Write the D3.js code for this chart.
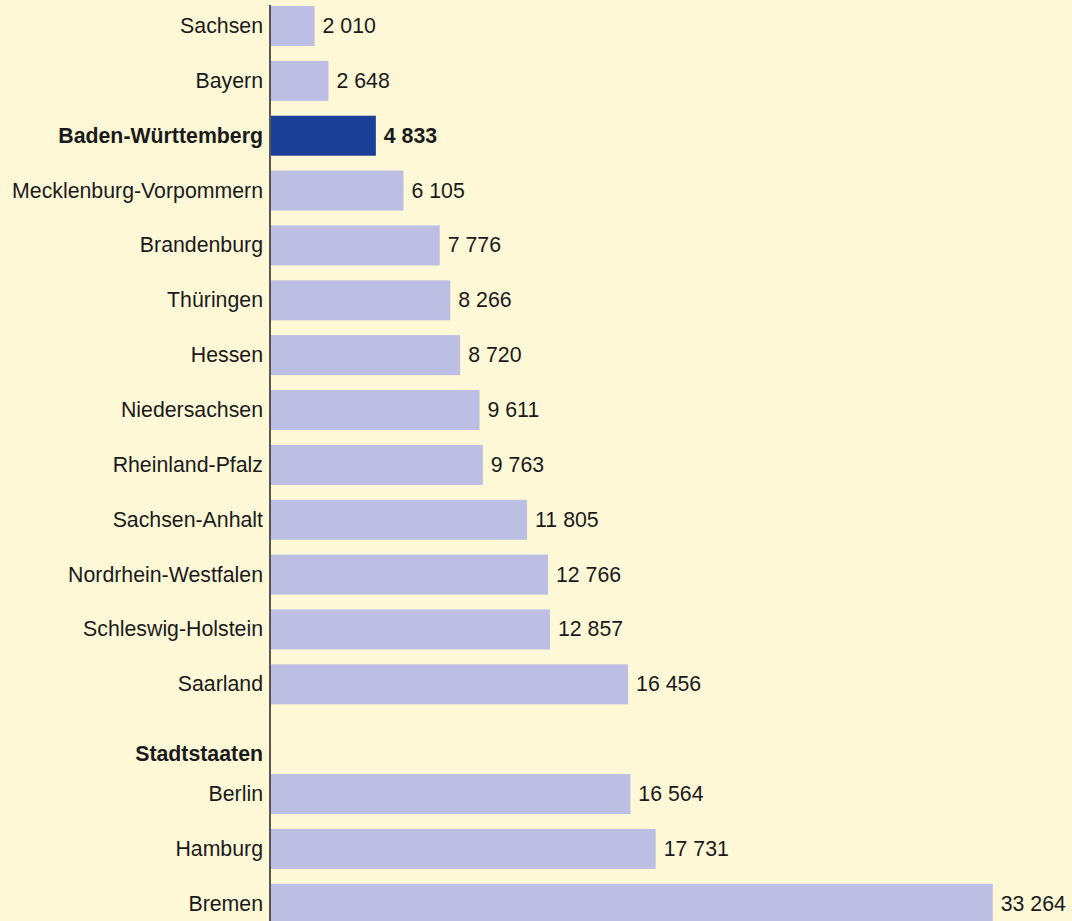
<!DOCTYPE html>
<html lang="de">
<head>
<meta charset="utf-8">
<script src="https://cdn.jsdelivr.net/npm/d3@7/dist/d3.min.js"></script>
<style>
  html, body { margin: 0; padding: 0; background: #FFF8D6; }
  svg { display: block; }
  text { font-family: "Liberation Sans", Arial, Helvetica, sans-serif; fill: #1a1a1a; }
</style>
</head>
<body>
<svg id="chart" width="1072" height="921"></svg>
<script>
// Flächenländer, sortiert nach Wert
const laender = ["Sachsen", "Bayern", "Baden-Württemberg", "Mecklenburg-Vorpommern", "Brandenburg",
  "Thüringen", "Hessen", "Niedersachsen", "Rheinland-Pfalz", "Sachsen-Anhalt",
  "Nordrhein-Westfalen", "Schleswig-Holstein", "Saarland"];
const laenderWerte = [2010, 2648, 4833, 6105, 7776, 8266, 8720, 9611, 9763, 11805, 12766, 12857, 16456];

// Stadtstaaten
const gruppenTitel = "Stadtstaaten";
const stadtstaaten = ["Berlin", "Hamburg", "Bremen"];
const stadtWerte = [16564, 17731, 33264];

const hervorgehoben = "Baden-Württemberg";

const rows = [
  ...laender.map((n, i) => ({ key: n, name: n, value: laenderWerte[i] })),
  { key: "__gruppe", name: gruppenTitel, value: null },
  ...stadtstaaten.map((n, i) => ({ key: n, name: n, value: stadtWerte[i] }))
];

const svg = d3.select("#chart");
const x0 = 271;
const x = d3.scaleLinear().domain([0, 33264]).range([x0, 992.7]);
const y = d3.scaleBand()
  .domain(rows.map(d => d.key))
  .range([6 - 7.43, 6 - 7.43 + rows.length * 54.86])
  .paddingInner(0.271)
  .paddingOuter(0.1355);

const fmt = v => d3.format(",")(v).replace(/,/g, " ");

const bars = rows.filter(d => d.value !== null);

svg.append("g").selectAll("rect")
  .data(bars)
  .join("rect")
  .attr("x", x(0))
  .attr("y", d => y(d.key))
  .attr("width", d => x(d.value) - x(0))
  .attr("height", y.bandwidth())
  .attr("fill", d => d.name === hervorgehoben ? "#1A3F96" : "#BCBFE3");

// Beschriftungen links
svg.append("g").selectAll("text")
  .data(rows)
  .join("text")
  .attr("x", 263)
  .attr("y", d => y(d.key) + y.bandwidth() / 2 + (d.value === null ? 15 : 0))
  .attr("dy", "0.33em")
  .attr("text-anchor", "end")
  .attr("font-size", 21.3)
  .attr("font-weight", d => (d.name === hervorgehoben || d.value === null) ? "bold" : "normal")
  .text(d => d.name);

// Werte rechts der Balken
svg.append("g").selectAll("text")
  .data(bars)
  .join("text")
  .attr("x", d => x(d.value) + 8)
  .attr("y", d => y(d.key) + y.bandwidth() / 2)
  .attr("dy", "0.33em")
  .attr("font-size", 21.3)
  .attr("font-weight", d => d.name === hervorgehoben ? "bold" : "normal")
  .text(d => fmt(d.value));

// senkrechte Achse
svg.append("line")
  .attr("x1", 270).attr("x2", 270)
  .attr("y1", 5).attr("y2", 921)
  .attr("stroke", "#222")
  .attr("stroke-width", 1.5);
</script>
</body>
</html>
